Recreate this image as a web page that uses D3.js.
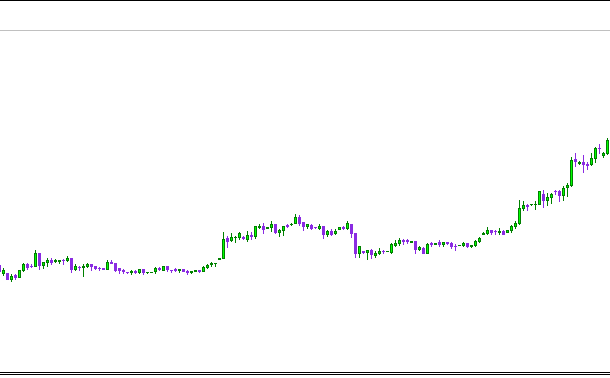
<!DOCTYPE html>
<html>
<head>
<meta charset="utf-8">
<script src="https://cdn.jsdelivr.net/npm/d3@7"></script>
<style>
  html, body { margin: 0; padding: 0; background: #fff; }
  svg { display: block; }
</style>
</head>
<body>
<div id="chart-area"></div>
<script>
// bar values (arbitrary price units)
var open  = [35,26,27,20,25,22,29,36,34,33,47,34,37,40,38,38,40,39,42,30,33,32,33,36,34,32,32,30,38,37,
             32,30,28,27,29,27,31,27,27,28,32,29,34,30,31,29,31,29,27,28,30,28,32,35,36,40,41,62,59,62,
             62,63,60,65,63,72,74,71,72,76,67,69,75,75,76,83,78,73,75,73,71,74,65,69,66,70,73,71,76,67,
             46,49,47,50,44,46,49,48,47,54,56,60,60,57,59,50,52,46,57,55,58,55,58,57,54,54,54,57,53,54,
             58,65,66,70,69,67,69,67,69,73,76,91,95,95,95,95,106,99,102,109,109,104,112,114,141,136,138,136,135,141,
             152,144,146];
var high  = [36,32,27,26,26,30,37,37,36,50,47,38,42,42,41,40,41,44,42,36,34,36,37,36,34,33,32,40,40,37,
             32,31,28,30,30,31,31,28,28,33,33,34,34,30,32,31,31,30,29,30,30,34,36,38,37,42,68,64,67,64,
             68,64,69,68,74,76,77,73,79,76,71,74,76,77,86,85,78,76,76,73,76,74,70,71,71,73,74,79,76,67,
             54,49,50,51,49,52,50,49,57,60,62,61,61,59,59,54,53,57,58,57,60,58,58,58,56,55,58,57,55,60,
             63,68,73,70,70,72,70,70,75,79,100,99,96,96,99,109,110,107,107,110,110,114,117,143,147,139,145,138,147,153,
             156,148,162];
var low   = [27,24,20,18,20,22,28,30,32,33,30,31,33,35,37,36,35,38,27,29,29,23,32,29,30,29,30,30,36,28,
             26,26,26,25,26,26,25,26,27,26,29,29,28,27,28,27,28,25,26,28,27,28,31,33,33,40,41,52,58,57,
             60,60,58,60,61,71,66,71,68,66,63,64,72,74,76,74,69,71,70,71,70,61,63,64,65,70,70,70,62,42,
             42,46,40,41,42,45,46,48,46,53,54,55,56,57,46,49,46,46,53,55,53,53,55,51,49,54,53,52,52,53,
             57,65,65,65,65,65,65,67,67,71,75,89,89,94,90,95,92,94,96,105,98,99,103,113,133,135,127,130,134,137,
             146,142,145];
var close = [28,30,20,24,22,30,36,32,33,47,34,38,40,37,40,40,39,42,30,34,32,34,36,33,31,31,30,38,36,29,
             29,28,27,29,27,31,27,28,28,32,30,34,30,29,29,31,28,27,29,30,28,33,35,37,37,42,61,58,63,63,
             67,61,65,63,74,74,70,73,76,67,70,74,73,76,83,76,73,76,71,72,74,65,69,65,69,73,71,77,66,46,
             54,47,50,45,47,49,48,49,56,57,60,58,58,59,50,53,46,56,55,57,55,58,56,53,53,55,57,53,55,59,
             62,67,70,67,68,69,65,70,74,77,92,95,93,96,96,109,99,103,106,108,104,112,115,140,138,138,135,134,142,152,
             151,147,160];

var bars = open.map(function(o, i) {
    return { n: i + 1, open: o, high: high[i], low: low[i], close: close[i] };
});

var width = 610, height = 378;

var svg = d3.select("#chart-area").append("svg")
    .attr("width", width)
    .attr("height", height)
    .attr("shape-rendering", "crispEdges");

// frame lines
svg.append("rect").attr("x", 0).attr("y", 0).attr("width", width).attr("height", 1).attr("fill", "#000");
svg.append("rect").attr("x", 0).attr("y", 30).attr("width", width).attr("height", 1).attr("fill", "#c0c0c0");
svg.append("rect").attr("x", 0).attr("y", 372).attr("width", width).attr("height", 1).attr("fill", "#000");
svg.append("rect").attr("x", 0).attr("y", 374).attr("width", width).attr("height", 1).attr("fill", "#000");

// scales: one bar every 4px, last bar at the right edge
var x = d3.scaleLinear()
    .domain([1, bars.length])
    .range([-1, 4 * bars.length - 5]);

var y = d3.scaleLinear()
    .domain([0, 300])
    .range([300, 0]);

var upEdge = "#008000", upFill = "#00ff00", downCol = "#8a2be2";

var g = svg.append("g");

var candle = g.selectAll(".candle")
    .data(bars).enter()
    .append("g")
    .attr("class", "candle");

// wicks
candle.append("rect")
    .attr("x", function(d) { return x(d.n); })
    .attr("y", function(d) { return y(d.high); })
    .attr("width", 1)
    .attr("height", function(d) { return Math.max(1, y(d.low) - y(d.high)); })
    .attr("fill", function(d) { return d.close >= d.open ? upEdge : downCol; });

// bodies
candle.append("rect")
    .attr("x", function(d) { return x(d.n) - 1; })
    .attr("y", function(d) { return y(Math.max(d.open, d.close)); })
    .attr("width", 3)
    .attr("height", function(d) { return Math.max(1, Math.abs(y(d.open) - y(d.close))); })
    .attr("fill", function(d) { return d.close >= d.open ? upEdge : downCol; });

// lime inside of the up bodies
candle.filter(function(d) { return d.close >= d.open && Math.abs(y(d.open) - y(d.close)) > 2; })
    .append("rect")
    .attr("x", function(d) { return x(d.n); })
    .attr("y", function(d) { return y(d.close) + 1; })
    .attr("width", 1)
    .attr("height", function(d) { return y(d.open) - y(d.close) - 2; })
    .attr("fill", upFill);
</script>
</body>
</html>
